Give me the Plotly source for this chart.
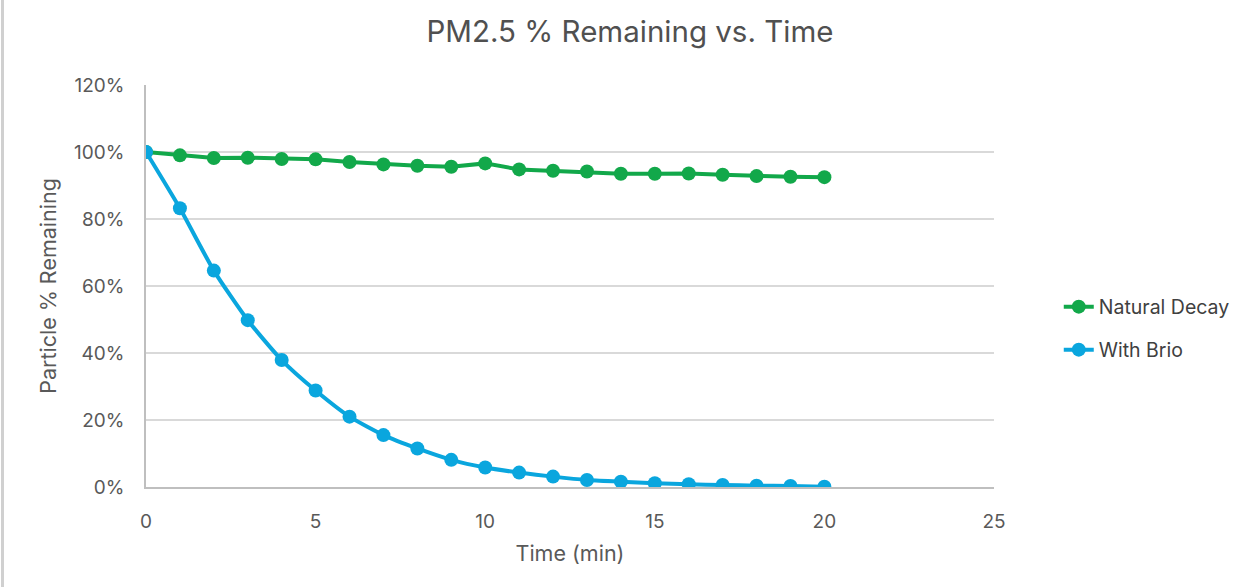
import plotly.graph_objects as go

time_min = list(range(0, 21))
natural_decay = [100.0, 99.0, 98.2, 98.3, 97.9, 97.8, 97.0, 96.3, 95.9, 95.6, 96.6,
                 94.8, 94.4, 94.2, 93.5, 93.5, 93.6, 93.2, 92.8, 92.6, 92.5]
with_brio = [100.0, 83.2, 64.6, 49.8, 37.9, 28.8, 21.0, 15.5, 11.5, 8.1, 5.8,
             4.3, 3.1, 2.1, 1.6, 1.1, 0.8, 0.6, 0.4, 0.3, 0.1]

x_ticks = [0, 5, 10, 15, 20, 25]
y_ticks = [0, 20, 40, 60, 80, 100, 120]
y_tick_labels = [f"{v}%" for v in y_ticks]

GREEN = "#12A84A"
BLUE = "#0AA6DE"
TXT = "#595959"
FONT = "Inter"

W, H = 1247, 587
L, R, T, B = 146, 250, 85, 100
pw = W - L - R
ph = H - T - B

fig = go.Figure()
fig.add_trace(go.Scatter(
    x=time_min, y=natural_decay, name="Natural Decay", mode="lines+markers",
    line=dict(color=GREEN, width=4),
    marker=dict(color=GREEN, size=14),
    legend="legend",
))
fig.add_trace(go.Scatter(
    x=time_min, y=with_brio, name="With Brio", mode="lines+markers",
    line=dict(color=BLUE, width=4, shape="spline", smoothing=0.6),
    marker=dict(color=BLUE, size=14),
    legend="legend2",
))

leg_common = dict(xanchor="left", yanchor="middle", font=dict(size=19.5, color="#404040"),
                  bgcolor="rgba(0,0,0,0)")

fig.update_layout(
    width=W, height=H,
    margin=dict(l=L, r=R, t=T, b=B),
    paper_bgcolor="white", plot_bgcolor="white",
    font=dict(family=FONT, color=TXT, size=19),
    title=dict(text="PM2.5 % Remaining vs. Time", x=630 / W, xanchor="center",
               y=1 - 32 / H, yanchor="middle",
               font=dict(family=FONT, size=29.5, color="#505050")),
    xaxis=dict(range=[0, 25], tickvals=x_ticks, showgrid=False, zeroline=False,
               showline=True, linecolor="#BFBFBF", linewidth=1.5, ticks="",
               ticklabelstandoff=16,
               tickfont=dict(size=19, color=TXT),
               title=dict(text="Time (min)", font=dict(size=21.5, color=TXT), standoff=14)),
    yaxis=dict(range=[0, 120], tickvals=y_ticks, ticktext=y_tick_labels,
               showgrid=True, gridcolor="#D9D9D9", gridwidth=1.5, zeroline=False,
               showline=True, linecolor="#BFBFBF", linewidth=1.5, ticks="",
               ticklabelstandoff=16,
               tickfont=dict(size=19, color=TXT),
               title=dict(text="Particle % Remaining", font=dict(size=21.5, color=TXT), standoff=12)),
    legend=dict(x=(1062 - L) / pw, y=1 - (307 - T) / ph, **leg_common),
    legend2=dict(x=(1062 - L) / pw, y=1 - (350 - T) / ph, **leg_common),
    showlegend=True,
)
fig.add_shape(type="line", xref="paper", yref="paper",
              x0=(2 - L) / pw, x1=(2 - L) / pw, y0=-B / ph, y1=1 + T / ph,
              line=dict(color="#D0D0D0", width=3))

fig.write_html("out.html", config={"displayModeBar": False},
               post_script="document.body.style.margin='0';document.body.style.overflow='hidden';")
